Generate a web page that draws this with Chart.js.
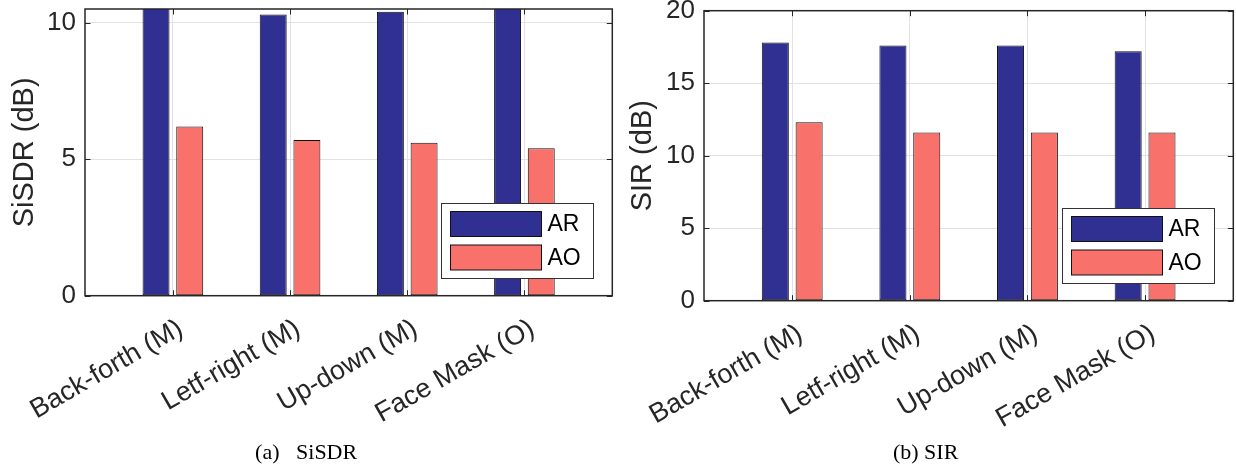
<!DOCTYPE html>
<html>
<head>
<meta charset="utf-8">
<script src="https://cdn.jsdelivr.net/npm/chart.js@4.4.1/dist/chart.umd.min.js"></script>
<style>
  html, body { margin: 0; padding: 0; background: #fff; }
  #wrap { position: relative; width: 1236px; height: 467px; }
  .panel { position: absolute; top: 0; width: 618px; height: 467px; }
</style>
</head>
<body>
<div id="wrap">
  <div class="panel" style="left:0"><canvas id="sisdr" width="618" height="467"></canvas></div>
  <div class="panel" style="left:618px"><canvas id="sir" width="618" height="467"></canvas></div>
</div>
<script>
// Movement conditions on the x axis
const categories = ['Back-forth (M)', 'Letf-right (M)', 'Up-down (M)', 'Face Mask (O)'];

// SiSDR in dB
const sisdrAR = [10.8, 10.3, 10.4, 10.6];
const sisdrAO = [6.2, 5.7, 5.6, 5.4];

// SIR in dB
const sirAR = [17.8, 17.6, 17.6, 17.2];
const sirAO = [12.3, 11.6, 11.6, 11.6];

// y tick values of each panel
const sisdrTicks = [0, 5, 10];
const sirTicks = [0, 5, 10, 15, 20];

const AR_COLOR = '#2f3092';
const AO_COLOR = '#f8716a';
const AXIS_COLOR = '#262626';
const SANS = '"Liberation Sans", Arial, Helvetica, sans-serif';
const SERIF = '"Liberation Serif", "Times New Roman", serif';

Chart.defaults.font.family = SANS;
Chart.defaults.color = AXIS_COLOR;

// Axes box and inward tick marks, drawn over the bars
const frame = {
  id: 'frame',
  afterDatasetsDraw(chart) {
    const { ctx, chartArea: a, scales: { x, y } } = chart;
    const len = 5.5;
    ctx.save();
    ctx.strokeStyle = AXIS_COLOR;
    ctx.lineWidth = 1;
    ctx.beginPath();
    x.ticks.forEach(t => {
      const px = Math.round(x.getPixelForValue(t.value)) + 0.5;
      ctx.moveTo(px, a.bottom); ctx.lineTo(px, a.bottom - len);
      ctx.moveTo(px, a.top); ctx.lineTo(px, a.top + len);
    });
    y.ticks.forEach(t => {
      const py = Math.round(y.getPixelForValue(t.value)) + 0.5;
      ctx.moveTo(a.left, py); ctx.lineTo(a.left + len, py);
      ctx.moveTo(a.right, py); ctx.lineTo(a.right - len, py);
    });
    ctx.stroke();
    ctx.lineWidth = 1.5;
    ctx.strokeRect(a.left, a.top, a.width, a.height);
    ctx.restore();
  }
};

// Boxed legend in the lower right corner of the plot area
const boxLegend = {
  id: 'boxLegend',
  afterDraw(chart) {
    const { ctx, chartArea: a } = chart;
    const w = 152, h = 75;
    const left = Math.round(a.right - 19 - w) + 0.5;
    const top = Math.round(a.bottom - 17.5 - h) + 0.5;
    ctx.save();
    ctx.fillStyle = '#fff';
    ctx.fillRect(left, top, w, h);
    ctx.lineWidth = 1;
    ctx.strokeStyle = '#333';
    ctx.strokeRect(left, top, w, h);
    chart.data.datasets.forEach((ds, i) => {
      const sy = top + 8 + i * 33.5;
      ctx.fillStyle = ds.backgroundColor;
      ctx.fillRect(left + 9, sy, 91, 25);
      ctx.strokeStyle = '#111';
      ctx.strokeRect(left + 9, sy, 91, 25);
      ctx.fillStyle = '#000';
      ctx.font = '23px ' + SANS;
      ctx.textBaseline = 'middle';
      ctx.textAlign = 'left';
      ctx.fillText(ds.label, left + 106, sy + 13.5);
    });
    ctx.restore();
  }
};

function makePanel(id, arData, aoData, yMax, yTicks, yTitle, caption, geom) {
  const toPoints = arr => arr.map((v, i) => ({ x: i + 1, y: v }));
  const barStyle = {
    borderColor: '#111',
    borderWidth: 1,
    borderSkipped: false,
    categoryPercentage: 0.575,
    barPercentage: 0.8
  };
  return new Chart(document.getElementById(id), {
    type: 'bar',
    data: {
      datasets: [
        Object.assign({ label: 'AR', data: toPoints(arData), backgroundColor: AR_COLOR }, barStyle),
        Object.assign({ label: 'AO', data: toPoints(aoData), backgroundColor: AO_COLOR }, barStyle)
      ]
    },
    options: {
      responsive: false,
      animation: false,
      events: [],
      layout: { padding: { left: 0, right: geom.right, top: geom.top, bottom: 1 } },
      plugins: {
        legend: { display: false },
        tooltip: { enabled: false },
        title: {
          display: true,
          position: 'bottom',
          text: caption,
          color: '#000',
          font: { family: SERIF, size: 22, weight: 'normal' },
          padding: { top: 0, bottom: 0 }
        }
      },
      scales: {
        x: {
          type: 'linear',
          min: 0.25,
          max: 4.75,
          offset: false,
          grid: { color: '#e2e2e2', lineWidth: 1, offset: false, drawTicks: false },
          border: { display: false },
          afterBuildTicks: s => { s.ticks = categories.map((c, i) => ({ value: i + 1 })); },
          afterFit: s => {
            s.height = geom.xHeight;
            s.paddingLeft = 0; s.paddingRight = 0;
          },
          ticks: {
            autoSkip: false,
            minRotation: 30,
            maxRotation: 30,
            padding: 17,
            labelOffset: 8,
            color: AXIS_COLOR,
            font: { size: 27 },
            callback: v => categories[Math.round(v) - 1]
          }
        },
        y: {
          min: 0,
          max: yMax,
          grid: { color: '#e2e2e2', lineWidth: 1, drawTicks: false },
          border: { display: false },
          afterBuildTicks: s => { s.ticks = yTicks.map(v => ({ value: v })); },
          afterFit: s => {
            s.width = geom.yWidth;
            s.paddingTop = 0; s.paddingBottom = 0;
          },
          ticks: { padding: 9, color: AXIS_COLOR, font: { size: 26 } },
          title: {
            display: true,
            text: yTitle,
            color: AXIS_COLOR,
            font: { size: 29 },
            padding: { top: 7.5, bottom: 0 }
          }
        }
      }
    },
    plugins: [frame, boxLegend]
  });
}

makePanel('sisdr', sisdrAR, sisdrAO, 10.5, sisdrTicks, 'SiSDR (dB)', '(a)   SiSDR',
  { top: 9, right: 5.7, xHeight: 143.9, yWidth: 85 });
makePanel('sir', sirAR, sirAO, 20, sirTicks, 'SIR (dB)', '(b) SIR',
  { top: 10.7, right: 2.7, xHeight: 138.9, yWidth: 86 });
</script>
</body>
</html>
